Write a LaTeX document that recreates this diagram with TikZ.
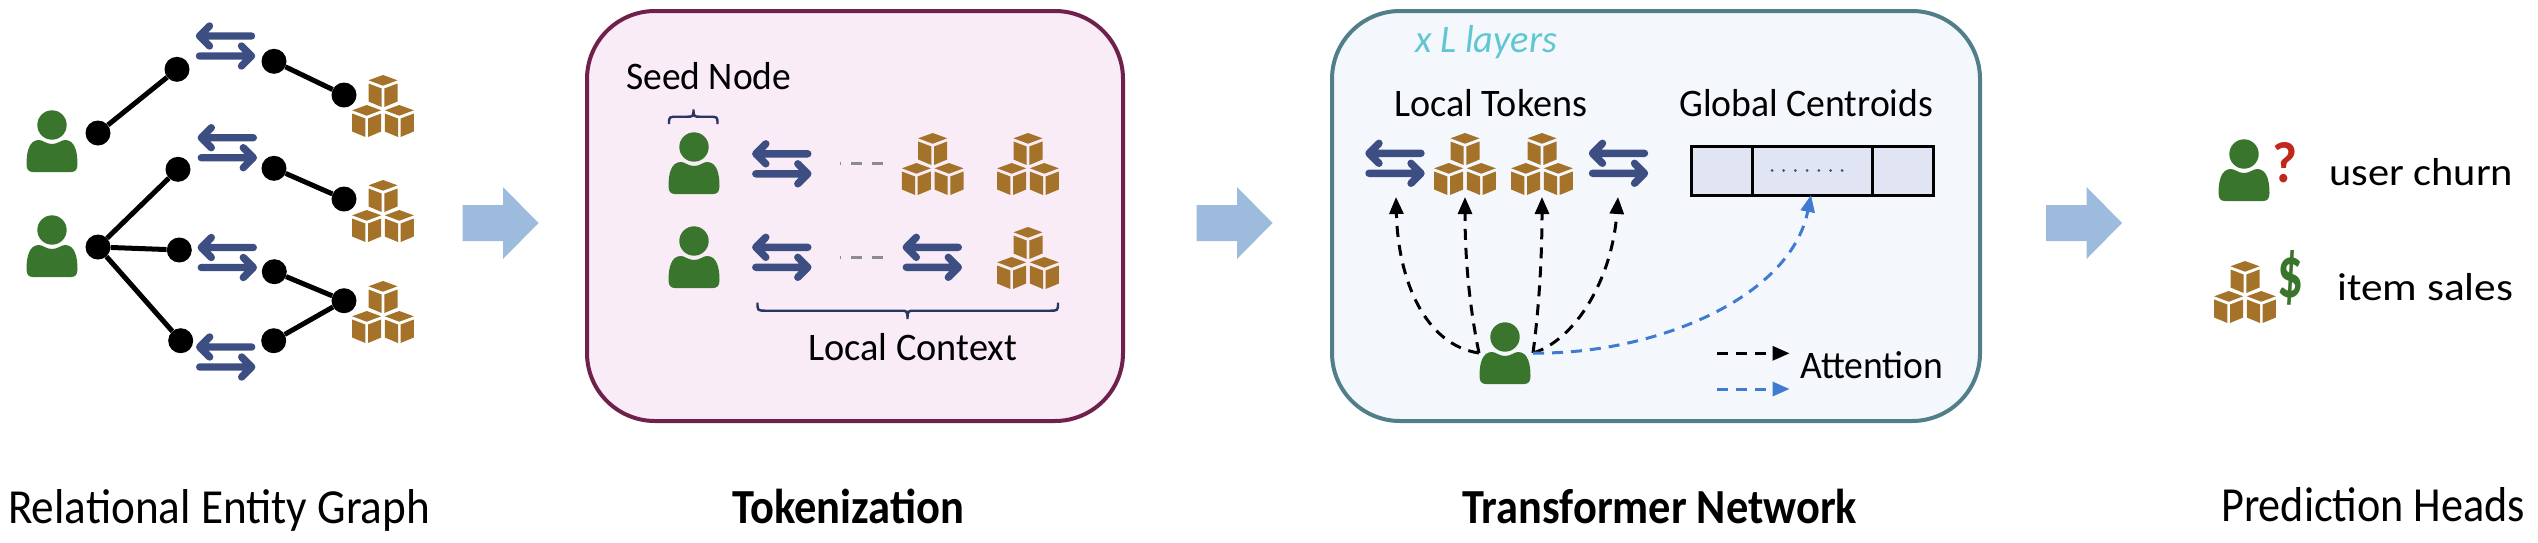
\documentclass[tikz,border=0pt]{standalone}
\usepackage{fontspec}
\usepackage{graphicx}
\setmainfont{Carlito}
\usetikzlibrary{arrows.meta}
\definecolor{usergreen}{HTML}{3A752E}
\definecolor{boxbrown}{HTML}{A5722A}
\definecolor{relblue}{HTML}{3D4E83}
\definecolor{flowblue}{HTML}{9DBBDD}
\definecolor{tokfill}{HTML}{F9ECF6}
\definecolor{tokline}{HTML}{6F214B}
\definecolor{trfill}{HTML}{F4F8FD}
\definecolor{trline}{HTML}{517E88}
\definecolor{cellfill}{HTML}{E1E5F3}
\definecolor{attblue}{HTML}{3F7BD0}
\definecolor{layercyan}{HTML}{5FC6D2}
\definecolor{bracenavy}{HTML}{2B3563}
\definecolor{dashgray}{HTML}{8C8C8C}
\definecolor{qred}{HTML}{C0281C}
\newcommand{\fitw}[2]{\resizebox{#1pt}{\height}{#2}}
\newcommand{\cubeat}[2]{%
  \fill[boxbrown] (#1,#2) -- ++(14.5,5.3) -- ++(-14.5,5.4) -- ++(-14.5,-5.4) -- cycle;
  \fill[boxbrown] ({#1-14.5},{#2+8.5}) -- ({#1-1.3},{#2+13.5}) -- ({#1-1.3},{#2+32}) -- ({#1-14.5},{#2+26.5}) -- cycle;
  \fill[boxbrown] ({#1+14.5},{#2+8.5}) -- ({#1+1.3},{#2+13.5}) -- ({#1+1.3},{#2+32}) -- ({#1+14.5},{#2+26.5}) -- cycle;
}
\newcommand{\bracepath}[6]{% x0 x1 tipx yend yline ytip
  \draw[bracestyle] (#1,#4) .. controls (#1,#5) and (#1,#5) .. ({#1+9},#5) -- ({#3-6},#5)
    .. controls ({#3-1},#5) and (#3,#5) .. (#3,#6) .. controls (#3,#5) and ({#3+1},#5) .. ({#3+6},#5)
    -- ({#2-9},#5) .. controls (#2,#5) and (#2,#5) .. (#2,#4);
}
\tikzset{
  usericon/.pic={
    \fill[usergreen] (0,-47) circle (14.7);
    \fill[usergreen] (-19,0) .. controls (-23,0) and (-25.5,-2) .. (-25.5,-8)
      .. controls (-25.5,-20) and (-23,-32) .. (-13,-32)
      .. controls (-9,-32) and (-6,-28) .. (0,-28)
      .. controls (6,-28) and (9,-32) .. (13,-32)
      .. controls (23,-32) and (25.5,-20) .. (25.5,-8)
      .. controls (25.5,-2) and (23,0) .. (19,0) -- cycle;
  },
  boxicon/.pic={
    \cubeat{0}{0}
    \cubeat{-16.3}{30}
    \cubeat{16.3}{30}
  },
  relicon/.pic={
    \draw[relstroke] (26,-10) -- (-26,-10) (-16,-20) -- (-26,-10) -- (-16,0);
    \draw[relstroke] (-26,10) -- (26,10) (16,0) -- (26,10) -- (16,20);
  },
  flowarrow/.pic={
    \fill[flowblue] (0,-18) -- (40.5,-18) -- (40.5,-36) -- (76,0) -- (40.5,36) -- (40.5,18) -- (0,18) -- cycle;
  },
  relstroke/.style={relblue,line width=7.4pt,line cap=round,line join=round},
  dotnode/.style={circle,fill=black,inner sep=0pt,minimum size=25pt},
  edgeline/.style={black,line width=5pt},
  tokpanel/.style={draw=tokline,fill=tokfill,line width=4pt,rounded corners=68pt,inner sep=0pt},
  trpanel/.style={draw=trline,fill=trfill,line width=4pt,rounded corners=68pt,inner sep=0pt},
  txt/.style={inner sep=0pt,anchor=base west,font=\fontsize{39}{42}\selectfont},
  captxt/.style={inner sep=0pt,anchor=base west,font=\fontsize{49}{52}\selectfont},
  bracestyle/.style={bracenavy,line width=2.4pt},
  gapdash/.style={dashgray,line width=3pt,dash pattern=on 11.5pt off 9.5pt},
  attblack/.style={black,line width=3pt,dash pattern=on 11pt off 8pt,-{Triangle[length=17pt,width=14pt]}},
  attcol/.style={attblue,line width=3pt,dash pattern=on 11pt off 8pt,-{Triangle[length=17pt,width=14pt]}},
}
\begin{document}
\begin{tikzpicture}[x=1pt,y=-1pt]
\useasboundingbox (0,0) rectangle (2538,542);
% panels
\node[tokpanel,minimum width=536pt,minimum height=410pt] (tokbox) at (855,216) {};
\node[trpanel,minimum width=648pt,minimum height=410pt] (trbox) at (1656,216) {};
% flow arrows
\pic (f1) at (462.5,223) {flowarrow};
\pic (f2) at (1196.5,223) {flowarrow};
\pic (f3) at (2046,223) {flowarrow};
% left graph
\pic (gu1) at (52,172) {usericon};
\pic (gu2) at (52,277) {usericon};
\pic (gb1) at (383,75) {boxicon};
\pic (gb2) at (383,180) {boxicon};
\pic (gb3) at (383,281) {boxicon};
\pic (gr1) at (225.5,46) {relicon};
\pic (gr2) at (227.3,147.7) {relicon};
\pic (gr3) at (227.3,257.5) {relicon};
\pic (gr4) at (225.7,357) {relicon};
\node[dotnode] (a1) at (98,133) {};
\node[dotnode] (a2) at (177,69.3) {};
\node[dotnode] (a3) at (274,61.3) {};
\node[dotnode] (a4) at (344,95) {};
\node[dotnode] (b0) at (98,247) {};
\node[dotnode] (b1) at (178,169.3) {};
\node[dotnode] (b3) at (274,168.3) {};
\node[dotnode] (b4) at (344,199) {};
\node[dotnode] (c1) at (179.3,250) {};
\node[dotnode] (c3) at (274.3,271.7) {};
\node[dotnode] (c4) at (344,300.7) {};
\node[dotnode] (d1) at (180.7,340.7) {};
\node[dotnode] (d3) at (273.7,340.7) {};
\draw[edgeline] (a1) -- (a2);
\draw[edgeline] (a3) -- (a4);
\draw[edgeline] (b0) -- (b1);
\draw[edgeline] (b3) -- (b4);
\draw[edgeline] (b0) -- (c1);
\draw[edgeline] (b0) -- (d1);
\draw[edgeline] (c3) -- (c4);
\draw[edgeline] (d3) -- (c4);
% tokenization
\node[txt] (seed) at (626,89) {\fitw{165}{Seed Node}};
\bracepath{669}{717.5}{693.5}{124}{116.7}{109.5}
\pic (tu1) at (694,194) {usericon};
\pic (tu2) at (694,288) {usericon};
\pic (tr1) at (781.8,163.8) {relicon};
\pic (tr2) at (781.8,257.3) {relicon};
\pic (tr3) at (932.3,257.3) {relicon};
\pic (tb1) at (932.7,133) {boxicon};
\pic (tb2) at (1028,133) {boxicon};
\pic (tb3) at (1028,227) {boxicon};
\coordinate (g1a) at (883,163.5);
\coordinate (g1b) at (840,163.5);
\coordinate (g2a) at (883,257.3);
\coordinate (g2b) at (840,257.3);
\draw[gapdash] (g1a) -- (g1b);
\draw[gapdash] (g2a) -- (g2b);
\bracepath{757.5}{1058}{907.5}{302.7}{310.7}{319}
\node[txt] (lctx) at (808,360) {\fitw{209}{Local Context}};
% transformer
\node[txt,text=layercyan,font=\fontsize{39}{42}\selectfont\itshape] (layers) at (1415,52) {\fitw{142}{x L layers}};
\node[txt] (ltok) at (1394,116) {\fitw{193}{Local Tokens}};
\node[txt] (gcen) at (1679,116) {\fitw{254}{Global Centroids}};
\pic (xr1) at (1395,163.3) {relicon};
\pic (xr2) at (1618.5,163.3) {relicon};
\pic (xb1) at (1465,133) {boxicon};
\pic (xb2) at (1542,133) {boxicon};
\filldraw[fill=cellfill,draw=black,line width=3pt] (1691,146) rectangle (1933,195);
\draw[black,line width=3pt] (1752,146) -- (1752,195) (1872,146) -- (1872,195);
\draw[relblue,line width=3pt,line cap=round,dash pattern=on 0pt off 11.7pt] (1772,170.5) -- (1843,170.5);
\pic (xu) at (1505,384) {usericon};
\coordinate (sl) at (1479,353);
\coordinate (sr) at (1533,353);
\coordinate (k1) at (1396,197);
\coordinate (k2) at (1465,197);
\coordinate (k3) at (1542,197);
\coordinate (k4) at (1618,197);
\coordinate (k5) at (1811,195);
\draw[attblack] (sl) .. controls (1425,345) and (1398,280) .. (k1);
\draw[attblack] (sl) .. controls (1468,300) and (1465,250) .. (k2);
\draw[attblack] (sr) .. controls (1540,300) and (1542,250) .. (k3);
\draw[attblack] (sr) .. controls (1575,340) and (1612,280) .. (k4);
\draw[attcol] (sr) .. controls (1650,355) and (1790,300) .. (k5);
\coordinate (la) at (1717,353.3);
\coordinate (lb) at (1789.6,353.3);
\coordinate (lc) at (1717,389);
\coordinate (ld) at (1789.6,389);
\draw[attblack] (la) -- (lb);
\draw[attcol] (lc) -- (ld);
\node[txt] (att) at (1800,378) {\fitw{143}{Attention}};
% predictions
\pic (pu) at (2244,201) {usericon};
\pic (pb) at (2245,261) {boxicon};
\node[inner sep=0pt,text=qred,font=\bfseries] (qm) at (2284.5,163) {\resizebox{25pt}{40pt}{?}};
\node[inner sep=0pt,text=usergreen,font=\bfseries] (dl) at (2290,278) {\resizebox{26pt}{47pt}{\$}};
\node[txt] (churn) at (2329,185) {\fitw{184}{user churn}};
\node[txt] (sales) at (2337,300) {\fitw{176}{item sales}};
% captions
\node[captxt] (c1t) at (8,523) {\fitw{422}{Relational Entity Graph}};
\node[captxt,font=\fontsize{49}{52}\selectfont\bfseries] (c2t) at (732,523) {\fitw{232}{Tokenization}};
\node[captxt,font=\fontsize{49}{52}\selectfont\bfseries] (c3t) at (1462,523) {\fitw{395}{Transformer Network}};
\node[captxt] (c4t) at (2221,521) {\fitw{304}{Prediction Heads}};
\end{tikzpicture}
\end{document}
